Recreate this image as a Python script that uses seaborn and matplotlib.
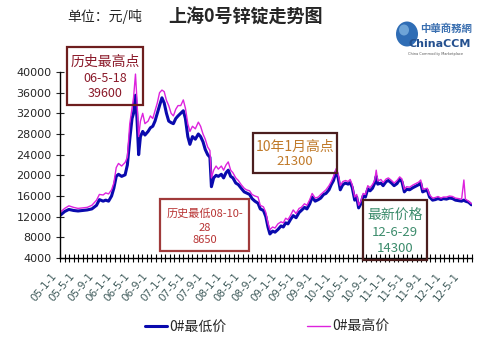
import matplotlib
matplotlib.use("Agg")
import matplotlib.pyplot as plt
import matplotlib.dates as mdates
from matplotlib.patches import Rectangle, Ellipse
import pandas as pd
import seaborn as sns

# ---- data: Shanghai #0 zinc ingot, yuan/ton ----
dates = [
    "2005-01-04", "2005-02-01", "2005-03-01", "2005-04-01", "2005-05-01", "2005-06-01",
    "2005-07-01", "2005-08-01", "2005-09-01", "2005-09-20", "2005-10-15", "2005-11-01",
    "2005-11-20", "2005-12-10", "2005-12-25", "2006-01-10", "2006-01-25", "2006-02-15",
    "2006-03-10", "2006-03-25", "2006-04-10", "2006-04-25", "2006-05-05", "2006-05-18",
    "2006-05-28", "2006-06-08", "2006-06-20", "2006-07-05", "2006-07-20", "2006-08-10",
    "2006-08-25", "2006-09-10", "2006-09-25", "2006-10-10", "2006-10-25", "2006-11-10",
    "2006-11-25", "2006-12-10", "2006-12-25", "2007-01-10", "2007-01-25", "2007-02-10",
    "2007-02-25", "2007-03-15", "2007-04-01", "2007-04-15", "2007-05-01", "2007-05-15",
    "2007-06-01", "2007-06-20", "2007-07-10", "2007-07-25", "2007-08-10", "2007-08-25",
    "2007-09-10", "2007-09-25", "2007-10-05", "2007-10-20", "2007-11-05", "2007-11-20",
    "2007-12-10", "2007-12-25", "2008-01-10", "2008-01-25", "2008-02-10", "2008-02-25",
    "2008-03-15", "2008-04-01", "2008-04-20", "2008-05-10", "2008-05-25", "2008-06-15",
    "2008-07-01", "2008-07-20", "2008-08-10", "2008-08-25", "2008-09-15", "2008-10-01",
    "2008-10-15", "2008-10-28", "2008-11-15", "2008-12-01", "2008-12-20", "2009-01-10",
    "2009-01-25", "2009-02-10", "2009-02-25", "2009-03-15", "2009-04-01", "2009-04-20",
    "2009-05-10", "2009-05-25", "2009-06-15", "2009-07-01", "2009-07-20", "2009-08-05",
    "2009-08-25", "2009-09-15", "2009-10-01", "2009-10-20", "2009-11-05", "2009-11-25",
    "2009-12-10", "2009-12-25", "2010-01-12", "2010-01-25", "2010-02-08", "2010-02-25",
    "2010-03-15", "2010-04-01", "2010-04-15", "2010-04-28", "2010-05-15", "2010-05-28",
    "2010-06-10", "2010-06-25", "2010-07-10", "2010-07-25", "2010-08-10", "2010-08-25",
    "2010-09-10", "2010-09-25", "2010-10-05", "2010-10-15", "2010-11-05", "2010-11-20",
    "2010-12-10", "2010-12-25", "2011-01-15", "2011-02-01", "2011-02-20", "2011-03-10",
    "2011-03-25", "2011-04-10", "2011-04-25", "2011-05-15", "2011-06-05", "2011-06-25",
    "2011-07-15", "2011-07-28", "2011-08-10", "2011-08-25", "2011-09-10", "2011-09-25",
    "2011-10-15", "2011-11-01", "2011-11-20", "2011-12-10", "2011-12-25", "2012-01-15",
    "2012-02-05", "2012-02-25", "2012-03-15", "2012-04-05", "2012-04-25", "2012-05-10",
    "2012-05-20", "2012-06-10", "2012-06-29",
]
low_price = [
    12300, 13000, 13400, 13200, 13100, 13200, 13300, 13500, 14200, 15300, 15000, 15200,
    15000, 16000, 17500, 19800, 20200, 19800, 20100, 22000, 27000, 31000, 32000, 35500,
    31000, 24000, 27500, 28500, 27800, 28500, 29200, 29500, 30500, 32000, 33500, 35000,
    34000, 32000, 30500, 30200, 30000, 31000, 31500, 32000, 32500, 31000, 27500, 26000,
    27500, 27000, 28000, 27500, 26500, 25000, 24000, 23500, 17800, 19500, 20000, 19800,
    20200, 19500, 20500, 21000, 19800, 19500, 18500, 18200, 17500, 16800, 16600, 16300,
    15500, 15000, 14600, 13500, 13200, 12000, 10000, 8650, 9200, 9000, 9500, 10200,
    10000, 10800, 10600, 11500, 12200, 11800, 12800, 13200, 13800, 13500, 14500, 15800,
    15000, 15300, 15600, 16300, 16500, 17200, 18200, 19000, 20800, 19500, 17200, 18200,
    18500, 18300, 18600, 17700, 15200, 15800, 13700, 14500, 16000, 15800, 17400, 17000,
    17500, 18500, 19800, 18300, 18500, 18000, 18800, 19000, 18500, 18000, 18400, 19200,
    18800, 16800, 17300, 17200, 17600, 17900, 18200, 18500, 16800, 17000, 17100, 15800,
    15200, 15300, 15500, 15300, 15500, 15400, 15600, 15500, 15200, 15100, 15000, 15200,
    15000, 14800, 14300,
]
high_price = [
    12900, 13600, 14100, 13800, 13600, 13700, 13800, 14200, 15200, 16300, 16200, 16600,
    16400, 17200, 18500, 21500, 22300, 21800, 22500, 23500, 30000, 33000, 35000, 39600,
    34500, 27500, 30500, 32000, 30000, 30500, 31500, 31000, 32500, 34000, 36000, 36500,
    36200, 34500, 33500, 32000, 31500, 32800, 33500, 33500, 34600, 33000, 30000, 28500,
    29500, 29000, 30300, 29500, 28000, 27000, 25500, 24800, 19500, 21000, 21800, 21200,
    21800, 21000, 22000, 22600, 21000, 20500, 19500, 19000, 18200, 17500, 17200, 17000,
    16300, 16000, 15800, 14200, 13900, 12800, 10800, 9500, 10000, 9800, 10600, 11000,
    10800, 11700, 11400, 12300, 13300, 12600, 13600, 13800, 14500, 14200, 15300, 16500,
    15600, 15800, 16300, 16800, 17200, 18000, 18800, 19800, 21300, 20300, 18000, 18800,
    19000, 18800, 19200, 18200, 15800, 16300, 14200, 15000, 16500, 16300, 18000, 17600,
    18200, 19000, 21000, 18900, 19200, 18600, 19300, 19500, 19000, 18500, 19000, 19700,
    19300, 17300, 17800, 17700, 18100, 18400, 18700, 19100, 17300, 17400, 17500, 16200,
    15600, 15700, 15900, 15600, 15800, 15800, 16000, 15900, 15600, 15500, 15400, 19100,
    15400, 15000, 14500,
]
series_names = ["0#最低价", "0#最高价"]
y_ticks = [4000, 8000, 12000, 16000, 20000, 24000, 28000, 32000, 36000, 40000]
x_tick_dates = pd.date_range("2005-01-01", "2012-05-01", freq="4MS")

df = pd.DataFrame({"date": pd.to_datetime(dates), "low": low_price, "high": high_price})

# ---- figure ----
sns.set_style("white")
plt.rcParams["font.family"] = ["Noto Sans CJK SC", "DejaVu Sans"]
W, H = 485, 343
fig = plt.figure(figsize=(W / 100, H / 100), dpi=100)
ax = fig.add_axes([60 / W, 1 - 258 / H, 412 / W, 186 / H])

sns.lineplot(data=df, x="date", y="low", ax=ax, color="#0A0AAE", lw=2.2,
             label=series_names[0])
sns.lineplot(data=df, x="date", y="high", ax=ax, color="#DD22DD", lw=1.0,
             label=series_names[1])

ax.set_xlim(pd.Timestamp("2005-01-01"), pd.Timestamp("2012-07-03"))
ax.set_ylim(4000, 40000)
ax.set_yticks(y_ticks)
ax.set_yticklabels([str(v) for v in y_ticks], fontsize=8, family="DejaVu Sans")
ax.set_xlabel("")
ax.set_ylabel("")

# x ticks: one every month, slanted date labels every four months
ax.set_xticks(x_tick_dates)
ax.set_xticklabels([])
ax.xaxis.set_minor_locator(mdates.MonthLocator())
for d in x_tick_dates:
    ax.annotate(f"{d.year % 100:02d}-{d.month}-{d.day}",
                xy=(mdates.date2num(d), 0), xycoords=ax.get_xaxis_transform(),
                xytext=(-9, -13), textcoords="offset pixels",
                ha="right", va="top", rotation=50, rotation_mode="anchor",
                fontsize=7.5, color="#3E5A5A", family="DejaVu Sans",
                annotation_clip=False)

for s in ["top", "right"]:
    ax.spines[s].set_visible(False)
for s in ["left", "bottom"]:
    ax.spines[s].set_color("black")
    ax.spines[s].set_linewidth(1.0)
ax.tick_params(axis="x", which="both", direction="inout", length=6, width=0.8,
               colors="black", bottom=True)
ax.tick_params(axis="y", direction="inout", length=6, width=0.8, left=True, pad=3)
ax.grid(False)

# legend along the bottom
ax.legend(loc="center", bbox_to_anchor=(267 / W, 1 - 327 / H),
          bbox_transform=fig.transFigure, ncol=2, frameon=False, fontsize=10,
          handlelength=1.6, handletextpad=0.2, columnspacing=5.8)

# headings
fig.text(67 / W, 1 - 17 / H, "单位：元/吨", fontsize=10, ha="left", va="center")
fig.text(168 / W, 1 - 17 / H, "上海0号锌锭走势图", fontsize=13, fontweight="bold",
         ha="left", va="center")

# logo
fig.patches.append(Ellipse((407 / W, 1 - 34 / H), 22 / W, 25 / H, transform=fig.transFigure,
                           facecolor="#2F6DB5", edgecolor="none"))
fig.patches.append(Ellipse((404 / W, 1 - 30 / H), 10 / W, 11 / H, transform=fig.transFigure,
                           facecolor="#7FB2E0", edgecolor="none", alpha=0.8))
fig.text(446 / W, 1 - 29 / H, "中華商務網", family=["Noto Sans CJK TC", "DejaVu Sans"],
         fontsize=7.5, color="#3A6FB0", ha="center", va="center", fontweight="bold")
fig.text(440 / W, 1 - 44 / H, "ChinaCCM", fontsize=8, color="#24508F",
         ha="center", va="center", fontweight="bold", family="DejaVu Sans")
fig.text(436 / W, 1 - 54 / H, "China Commodity Marketplace", fontsize=2.5, color="#555555",
         ha="center", va="center", family="DejaVu Sans")


def note_box(x0, y0, x1, y1, edge, lines, ys, color, sizes):
    fig.patches.append(Rectangle((x0 / W, 1 - y1 / H), (x1 - x0) / W, (y1 - y0) / H,
                                 transform=fig.transFigure, fill=False,
                                 edgecolor=edge, linewidth=1.6))
    for t, yy, sz in zip(lines, ys, sizes):
        fig.text((x0 + x1) / 2 / W, 1 - yy / H, t, ha="center", va="center",
                 color=color, fontsize=sz)


note_box(67, 47, 143, 105, "#6E1E1E", ["历史最高点", "06-5-18", "39600"],
         [62, 78, 94], "#8B1A2A", [10, 9, 9])
note_box(160, 199, 249, 251, "#A03A3A", ["历史最低08-10-", "28", "8650"],
         [214, 228, 240], "#B83434", [8, 8, 8])
note_box(253, 133, 337, 173, "#4B1E1E", ["10年1月高点", "21300"],
         [147, 162], "#C07A2A", [10, 9.5])
note_box(363, 200, 427, 260, "#4B1E1E", ["最新价格", "12-6-29", "14300"],
         [215, 232, 248], "#3C8C6C", [10, 9.5, 9.5])

fig.savefig("out.png", dpi=100)
